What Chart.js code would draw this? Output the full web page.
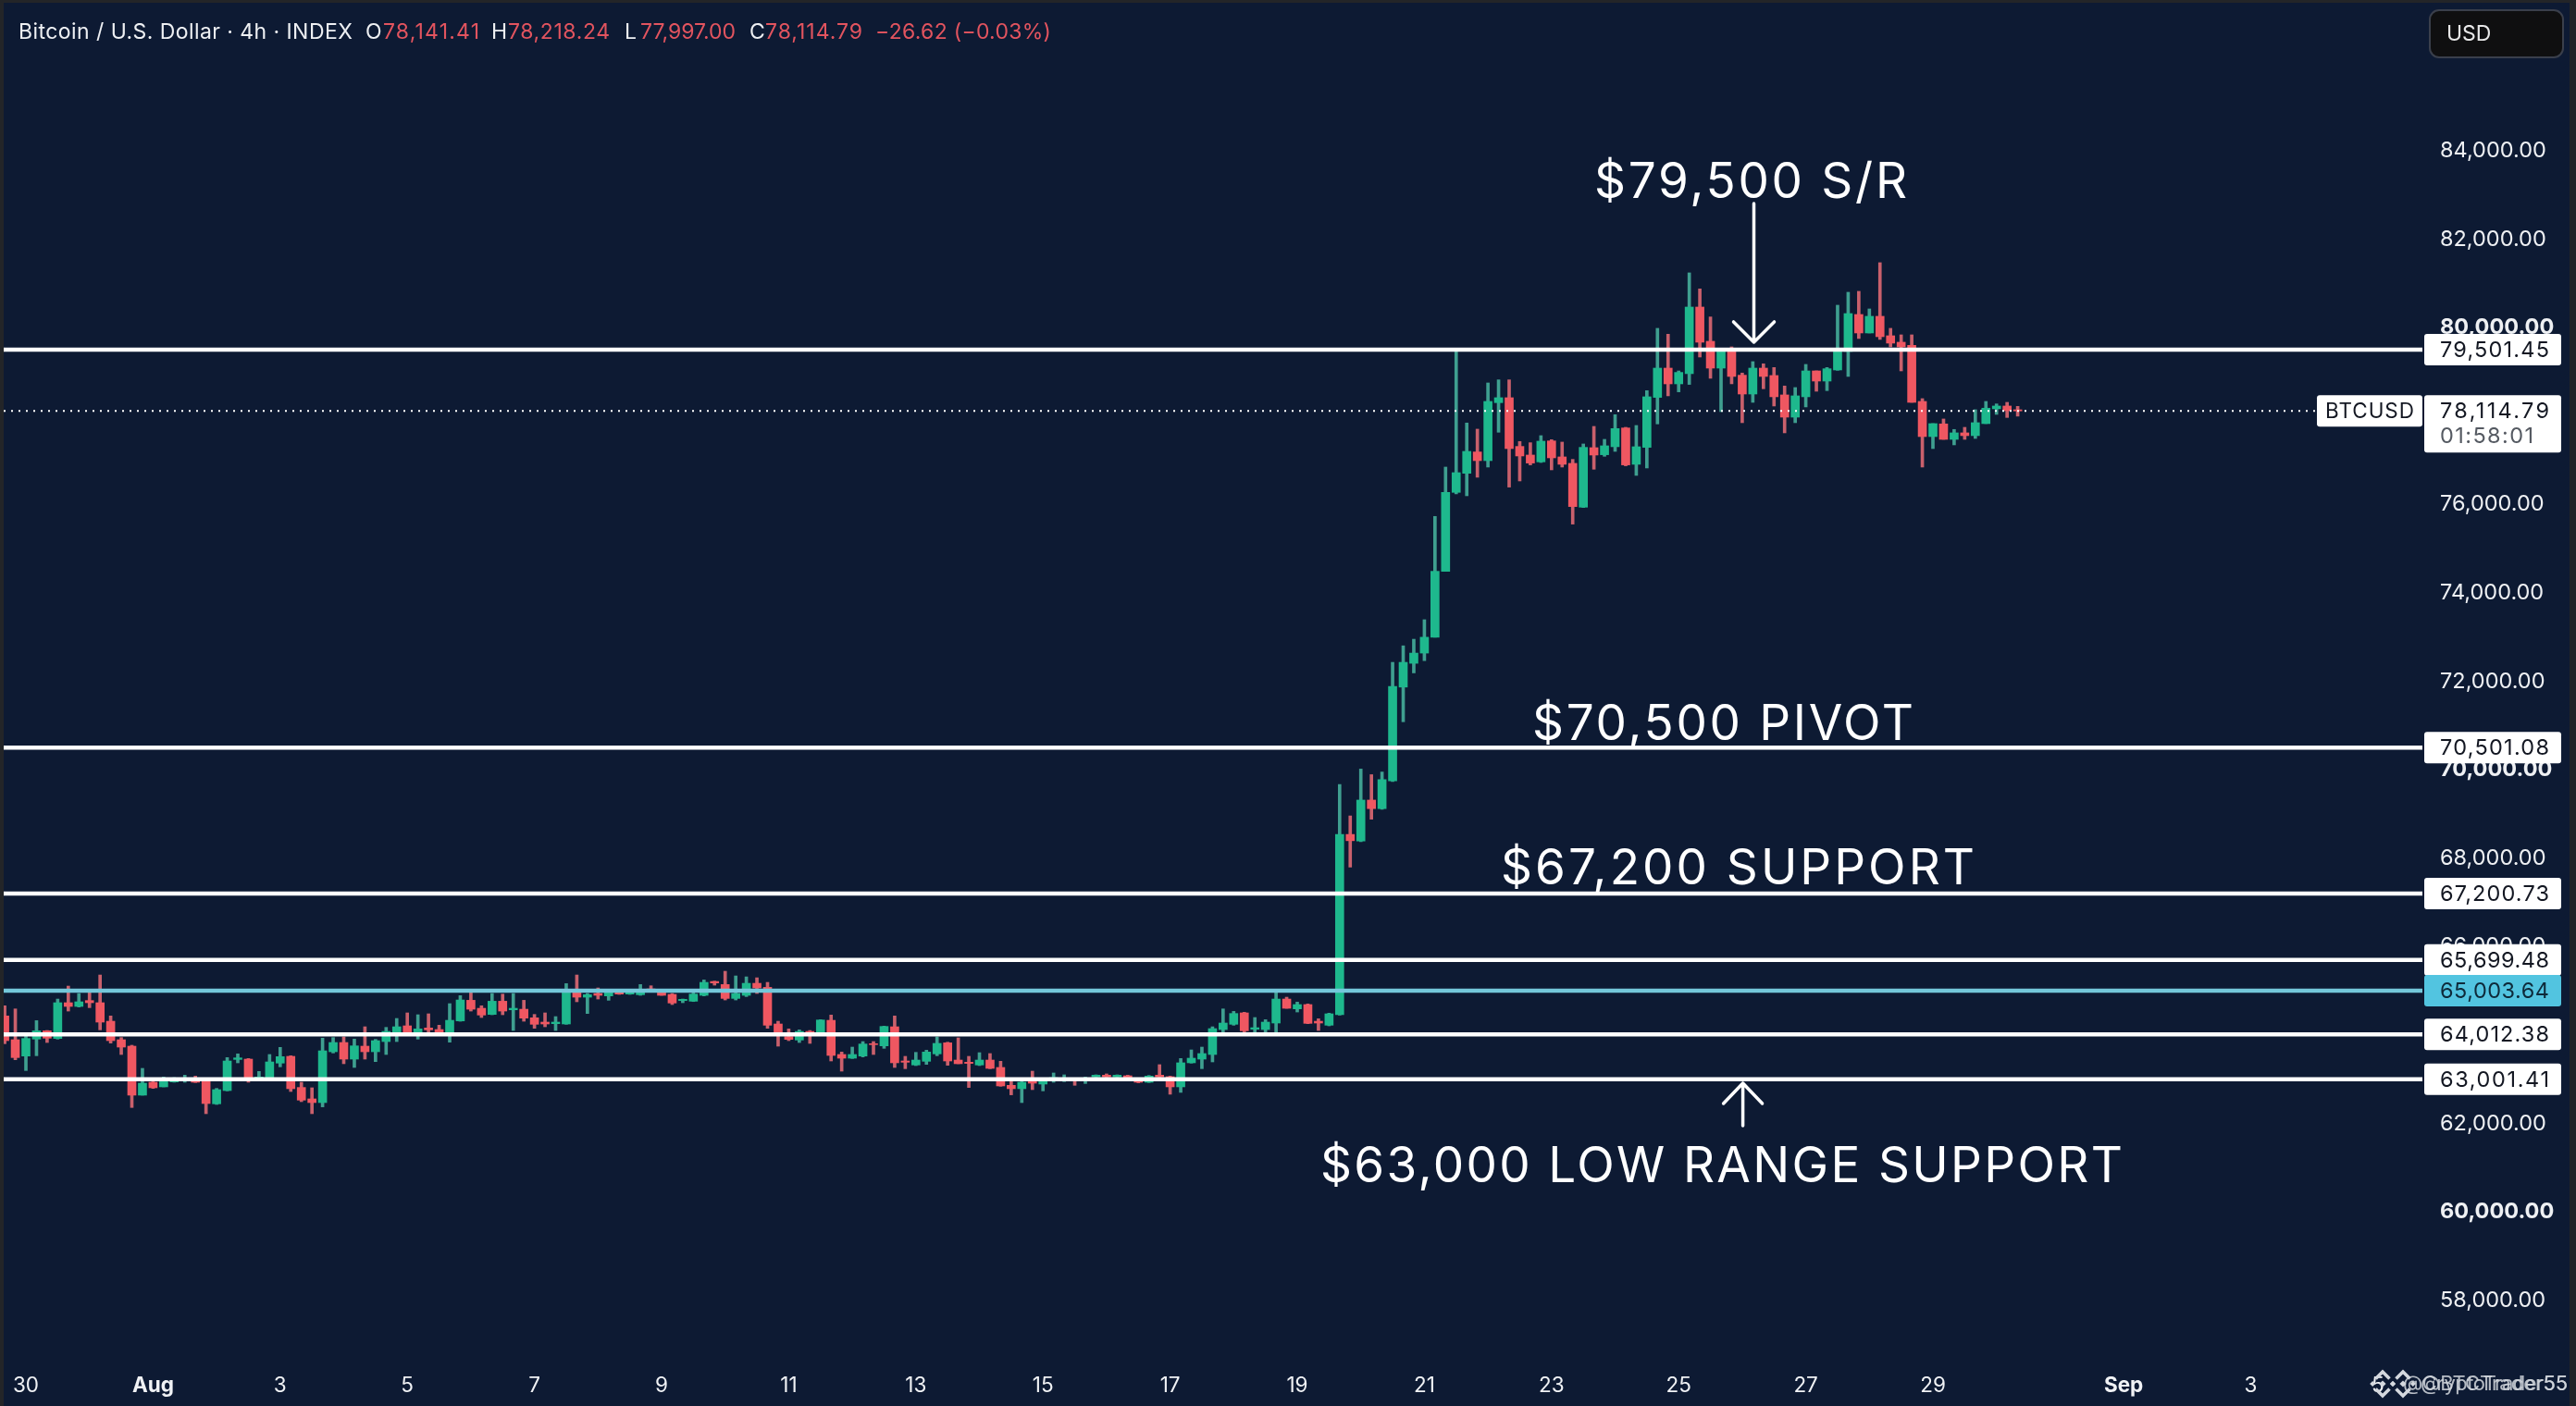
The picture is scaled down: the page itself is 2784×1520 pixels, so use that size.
<!DOCTYPE html>
<html><head><meta charset="utf-8"><title>Bitcoin / U.S. Dollar 4h</title>
<style>html,body{margin:0;padding:0;background:#232528}canvas{display:block}</style>
<script src="https://cdn.jsdelivr.net/npm/chart.js@4/dist/chart.umd.js"></script></head>
<body><canvas id="c" width="2784" height="1520"></canvas>
<script>
const firstCandleIndex = -2;
const opens = [64431,63894,63525,63908,64096,63922,64731,64647,64780,64731,64312,63894,63748,62640,62932,62828,62939,62981,63002,62960,62444,62744,63448,63455,63016,63023,63365,63518,62814,62556,
62472,63622,63831,63455,63748,63622,63852,64061,64208,64013,64159,64124,64027,64319,64786,64605,64466,64765,64570,64584,64389,64292,64257,64250,64954,64856,64940,64884,64981,64926,
64912,65044,64968,64919,64779,64765,64898,65211,65142,64828,64898,65170,65079,64250,63964,63887,64082,64034,64333,63560,63476,63525,63804,63755,64187,63413,63323,63406,63574,63824,
63434,63385,63323,63434,63267,62863,62786,62967,62891,63002,63002,63009,62981,63051,63093,63051,63079,62981,62932,63093,63058,62828,63372,63455,63560,64124,64243,64501,64131,64124,
64271,64814,64591,64689,64312,64222,64459,68537,68388,69314,69120,69748,71869,72407,72638,72997,74488,76273,76705,77187,76991,78302,78414,77312,77117,76963,77437,77075,76929,75938,
77284,77124,77305,77730,76908,77291,78421,79083,78727,78958,80464,79690,79083,79460,78923,78497,79083,78916,78477,77974,78435,79020,78790,79041,79460,80296,79878,80255,79815,79669,
79599,78330,77535,77821,77472,77619,77556,77828,78163,78226,78141.41];
const highs = [64661,64591,64047,64326,64103,64814,65107,64940,64954,65358,64431,63943,63769,63246,62946,63051,63037,63093,63072,62967,62793,63490,63574,63469,63176,63560,63720,63532,62932,62807,
63929,63943,63957,63908,64187,63901,64173,64375,64501,64459,64480,64222,64710,64891,64954,64661,64940,64926,64940,64786,64466,64501,64417,65163,65358,64940,65065,64988,65002,64988,
65142,65114,64988,64940,64814,64954,65246,65218,65442,65337,65316,65295,65191,64312,64138,64117,64103,64347,64452,63615,63727,63852,63852,64201,64431,63518,63608,63657,63957,63838,
63936,63518,63601,63581,63406,62946,62946,63183,62967,63142,63100,63016,63051,63100,63121,63100,63093,63002,63086,63330,63072,63469,63664,63727,64187,64591,64535,64515,64396,64347,
64968,64856,64745,64703,64368,64494,69665,68956,70016,69889,69949,72429,72803,72952,73393,75729,76845,79530,77842,77703,78748,78818,78818,77424,77396,77556,77465,77410,77019,77368,
77765,77472,78030,77744,77786,78574,79983,79850,79020,81238,80875,80241,79496,79564,78972,79230,79181,79097,78679,78644,79167,79020,79097,80506,80799,80820,80422,81468,79983,79836,
79836,78393,77828,77933,77696,77744,78142,78330,78274,78309,78218.24];
const lows = [63804,63441,63197,63532,63831,63908,64542,64633,64619,64117,63818,63560,62361,62640,62793,62828,62932,62932,62925,62221,62430,62737,63371,62932,63002,63016,63281,62723,62493,62221,
62375,63594,63351,63267,63455,63399,63560,63852,64013,63908,64047,64013,63838,64312,64542,64396,64459,64459,64103,64312,64152,64187,64103,64243,64752,64487,64814,64786,64919,64919,
64898,64968,64898,64689,64731,64758,64884,65128,64793,64793,64870,64940,64152,63748,63873,63831,63811,64027,63413,63183,63469,63504,63560,63699,63267,63239,63309,63337,63532,63316,
63351,62814,63309,63239,62842,62647,62472,62765,62737,62932,62946,62863,62904,63023,63030,63023,62981,62918,62925,63037,62661,62703,63365,63239,63392,64047,64222,64034,64034,64034,
64034,64605,64521,64257,64103,64208,64450,67798,68373,68881,69105,69733,71085,72190,72467,72997,74488,76238,76196,76615,76845,77633,76392,76531,76894,76949,76782,76845,75555,75931,
76796,77089,77200,76873,76657,76824,77821,78456,78546,78714,79334,78853,78100,78728,77849,78309,78616,78226,77619,77849,78205,78560,78574,79034,78895,79753,79878,79732,79564,79020,
78309,76845,77263,77472,77347,77472,77493,77828,78037,77967,77997];
const closes = [63873,63490,63922,64096,63929,64731,64647,64752,64731,64292,63873,63727,62640,62911,62807,63023,63016,63016,62932,62451,62765,63413,63483,63002,63051,63392,63511,62786,62528,62472,
63643,63831,63455,63755,63622,63873,64082,64187,64027,64138,64117,64034,64333,64793,64584,64452,64765,64542,64605,64382,64243,64250,64292,64975,64856,64912,64898,64954,64926,64968,
65009,64968,64898,64724,64807,64926,65191,65177,64828,64940,65170,65065,64222,64047,63901,64082,64034,64340,63539,63476,63560,63797,63783,64194,63372,63385,63434,63615,63811,63413,
63351,63358,63434,63246,62849,62786,62932,62911,62953,63037,63023,62967,63023,63093,63051,63093,63023,62932,63072,63051,62828,63372,63476,63581,64145,64271,64487,64096,64166,64292,
64814,64605,64689,64264,64271,64480,68537,68395,69314,69120,69777,71884,72429,72638,72997,74488,76273,76719,77200,76991,78330,78414,77263,77096,76936,77431,77054,76908,75952,77291,
77117,77326,77716,76894,77305,78435,79083,78727,78986,80464,79669,79083,79474,78895,78497,79083,78895,78435,77974,78456,79020,78790,79069,79460,80317,79878,80255,79794,79648,79564,
78309,77535,77828,77472,77619,77556,77849,78177,78226,78121,78114.79];

const xTickIndex = [0,12,24,36,48,60,72,84,96,108,120,132,144,156,168,180,198,210,222];
const xTickLabels = ["30","Aug","3","5","7","9","11","13","15","17","19","21","23","25","27","29","Sep","3","5"];
const xBoldLabels = ["Aug","Sep"];
const yTicks = [58000,60000,62000,64000,66000,68000,70000,72000,74000,76000,78000,80000,82000,84000];
const yBoldTicks = [60000,70000,80000];
const levelPrices = [79501.45,70501.08,67200.73,65699.48,64012.38,63001.41];
const accentLevel = 65003.64;
const lastPrice = 78114.79;
const xMin = -2.096, xMax = 226.2, yMin = 56656, yMax = 87325;

const UP='#1eb88d', DOWN='#ef5761', UPW='#3f9f90', DOWNW='#c9606c';
const NAVY='#0d1a33';
const FONT='Inter, "Liberation Sans", sans-serif';
const fmt=v=>v.toLocaleString('en-US',{minimumFractionDigits:2,maximumFractionDigits:2});
const xs=opens.map((_,k)=>k+firstCandleIndex);
const hline=(y,color,w,dash,order)=>({type:'line',data:[{x:xMin,y},{x:xMax,y}],borderColor:color,borderWidth:w,borderDash:dash||[],pointRadius:0,order,clip:false,tension:0});
const noPad=s=>{s.paddingTop=0;s.paddingBottom=0;s.paddingLeft=0;s.paddingRight=0;};

const overlay={id:'overlay',
 beforeDraw(ch){const c=ch.ctx;c.save();c.fillStyle='#232528';c.fillRect(0,0,2784,1520);c.fillStyle=NAVY;c.fillRect(4,3,2773,1517);c.restore();},
 afterDraw(ch){
  const c=ch.ctx,X=ch.scales.x,Y=ch.scales.y;
  c.save();
  const text=(s,x,y,font,col,al,bl)=>{c.font=font;c.fillStyle=col;c.textAlign=al||'left';c.textBaseline=bl||'alphabetic';c.fillText(s,x,y);};
  const fit=(s,x0,x1,base,font,col,bl)=>{c.font=font;c.letterSpacing='0px';const w=c.measureText(s).width;c.letterSpacing=((x1-x0-w)/(s.length-1)).toFixed(2)+'px';text(s,x0,base,font,col||'#fff','left',bl);c.letterSpacing='0px';};
  // header
  const hf='23px '+FONT,red='#e2545f',wh='#eef0f3';
  fit('Bitcoin / U.S. Dollar · 4h · INDEX',20,381,42,hf,wh);
  [['O',395,wh],['H',531,wh],['L',675,wh],['C',810,wh]].forEach(p=>text(p[0],p[1],42,hf,p[2]));
  [['78,141.41',414,518],['78,218.24',549,659],['77,997.00',692,795],['78,114.79',827,932],['−26.62 (−0.03%)',946,1136]].forEach(p=>fit(p[0],p[1],p[2],42,hf,red));
  // USD box
  c.fillStyle='#0f0f10';c.strokeStyle='#3a3f4b';c.lineWidth=2;c.beginPath();c.roundRect(2626,11,144,51,10);c.fill();c.stroke();
  text('USD',2644,44,'23px '+FONT,'#e8e8e8');
  // annotations
  const af='400 53px '+FONT;
  fit('$79,500 S/R',1723,2061,214,af);
  fit('$70,500 PIVOT',1656,2068,800,af);
  fit('$67,200 SUPPORT',1622,2134,956,af);
  fit('$63,000 LOW RANGE SUPPORT',1427,2294,1278,af);
  // arrows
  c.strokeStyle='#fff';c.lineWidth=3.5;c.lineCap='round';c.lineJoin='round';
  const ax=X.getPixelForValue(163.1),at=Y.getPixelForValue(82806),ab=Y.getPixelForValue(79669);
  c.beginPath();c.moveTo(ax,at);c.lineTo(ax,ab);c.moveTo(ax-22,ab-22);c.lineTo(ax,ab);c.lineTo(ax+22,ab-22);c.stroke();
  const bx=X.getPixelForValue(162.06),bt=Y.getPixelForValue(62911),bb=Y.getPixelForValue(61949);
  c.beginPath();c.moveTo(bx,bb);c.lineTo(bx,bt);c.moveTo(bx-21,bt+22);c.lineTo(bx,bt);c.lineTo(bx+21,bt+22);c.stroke();
  // price labels
  const lf='23.5px '+FONT;
  const box=(x,y,w,h,col)=>{c.fillStyle=col;c.beginPath();c.roundRect(x,y,w,h,3);c.fill();};
  levelPrices.forEach(p=>{const y=Y.getPixelForValue(p);box(2620,y-17,148,34,'#fff');fit(fmt(p),2637,2755,y+1,lf,'#131722','middle');});
  const ay=Y.getPixelForValue(accentLevel);box(2620,ay-17,148,34,'#52c4e0');fit(fmt(accentLevel),2637,2755,ay+1,lf,'#0e2a3a','middle');
  const ly=Y.getPixelForValue(lastPrice);
  box(2504,ly-17,114,34,'#fff');fit('BTCUSD',2513,2609,ly+1,'22.5px '+FONT,'#131722','middle');
  box(2620,ly-17,148,62,'#fff');fit(fmt(lastPrice),2637,2755,ly+1,lf,'#131722','middle');fit('01:58:01',2637,2738,ly+28,lf,'#555a62','middle');
  // watermark
  const wm='#d4d8de';
  const logo=(cx,cy,r)=>{c.fillStyle=wm;const d=(x,y,s)=>{c.beginPath();c.moveTo(x,y-s);c.lineTo(x+s,y);c.lineTo(x,y+s);c.lineTo(x-s,y);c.closePath();c.fill();};
   d(cx,cy,r*.24);d(cx-r*.72,cy,r*.2);d(cx+r*.72,cy,r*.2);
   c.strokeStyle=wm;c.lineWidth=r*.24;c.lineCap='butt';c.lineJoin='miter';c.beginPath();c.moveTo(cx-r*.5,cy-r*.36);c.lineTo(cx,cy-r*.86);c.lineTo(cx+r*.5,cy-r*.36);c.moveTo(cx-r*.5,cy+r*.36);c.lineTo(cx,cy+r*.86);c.lineTo(cx+r*.5,cy+r*.36);c.stroke();};
  logo(2575,1496,15);logo(2597,1496,15);
  const wf='22px '+FONT;
  c.globalAlpha=.85;
  fit('@CryptoTrader55',2597,2775,1503,wf,wm);
  fit('@BTCTrader55',2616,2775,1503,wf,wm);
  c.restore();
 }};

new Chart(document.getElementById('c'),{
 type:'bar',
 data:{datasets:[
  {type:'bar',label:'wick',data:xs.map((x,k)=>({x,y:[lows[k],highs[k]]})),backgroundColor:closes.map((v,k)=>v>=opens[k]?UPW:DOWNW),barThickness:3,grouped:false,order:6,borderWidth:0},
  {type:'bar',label:'body',data:xs.map((x,k)=>({x,y:[opens[k],closes[k]]})),backgroundColor:closes.map((v,k)=>v>=opens[k]?UP:DOWN),barThickness:9,grouped:false,order:5,borderWidth:0},
  hline(lastPrice,'#ffffff',2,[2,6],4),
  hline(accentLevel,'#74c7da',4.5,[],3),
  ...levelPrices.map(p=>hline(p,'#ffffff',4.5,[],2))
 ]},
 options:{
  responsive:false,devicePixelRatio:1,animation:false,
  layout:{padding:{left:4,top:4,right:0,bottom:0}},
  plugins:{legend:{display:false},tooltip:{enabled:false},title:{display:false}},
  scales:{
   x:{type:'linear',min:xMin,max:xMax,offset:false,
      grid:{display:false,drawTicks:false},border:{display:false},
      afterFit(s){s.height=50;noPad(s);},
      afterBuildTicks(s){s.ticks=xTickIndex.map(value=>({value}));},
      ticks:{autoSkip:false,maxRotation:0,minRotation:0,color:'#f0f2f5',padding:15,
        font:ctx=>({family:FONT,size:22.5,weight:xBoldLabels.includes(xTickLabels[xTickIndex.indexOf(ctx.tick&&ctx.tick.value)])?'700':'400'}),
        callback:v=>xTickLabels[xTickIndex.indexOf(v)]}},
   y:{type:'linear',position:'right',min:yMin,max:yMax,
      grid:{display:false,drawTicks:false},border:{display:false},
      afterFit(s){s.width=166;noPad(s);},
      afterBuildTicks(s){s.ticks=yTicks.map(value=>({value}));},
      ticks:{autoSkip:false,color:'#eef0f3',crossAlign:'near',padding:19,
        font:ctx=>({family:FONT,size:23.5,weight:yBoldTicks.includes(ctx.tick&&ctx.tick.value)?'700':'400'}),
        callback:v=>fmt(v)}}
  }
 },
 plugins:[overlay]
});
</script></body></html>
